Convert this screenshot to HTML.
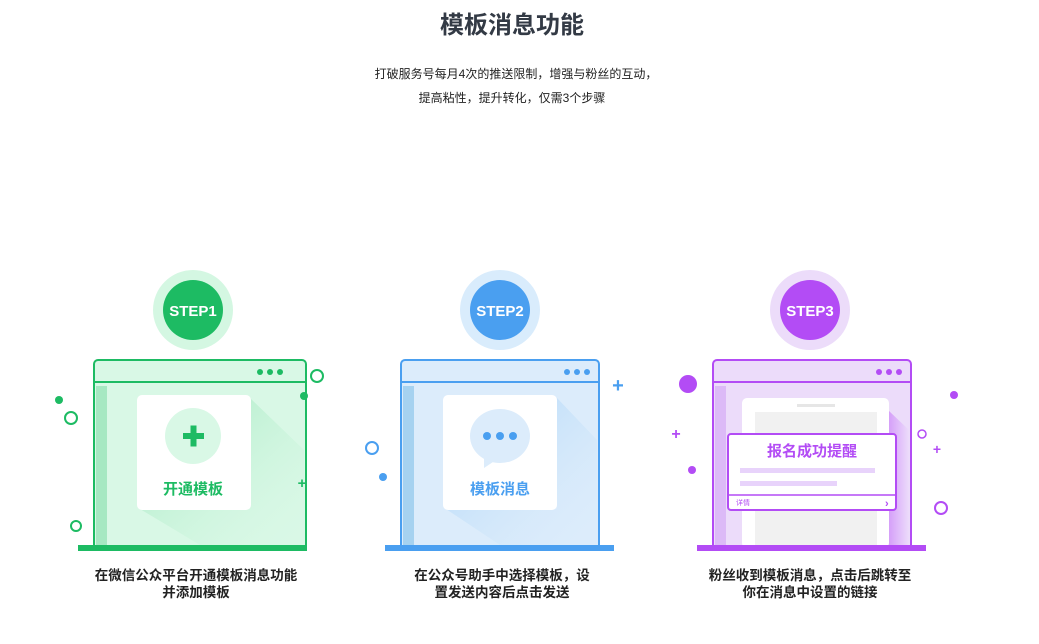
<!DOCTYPE html>
<html><head><meta charset="utf-8"><style>
body{margin:0;width:1039px;height:639px;background:#fff;overflow:hidden;font-family:"Liberation Sans","Noto Sans CJK SC",sans-serif}
svg text{font-family:"Liberation Sans","Noto Sans CJK SC",sans-serif}
</style></head><body>
<svg width="1039" height="639" viewBox="0 0 1039 639" xmlns="http://www.w3.org/2000/svg">
<defs>
<linearGradient id="sg" x1="0" y1="0" x2="1" y2="1"><stop offset="0" stop-color="#9fe8bd"/><stop offset="1" stop-color="#d9f8e6" stop-opacity="0"/></linearGradient>
<linearGradient id="sb" x1="0" y1="0" x2="1" y2="1"><stop offset="0" stop-color="#a8d3f7"/><stop offset="1" stop-color="#dcecfb" stop-opacity="0"/></linearGradient>
<linearGradient id="sp" x1="0" y1="0" x2="1" y2="0"><stop offset="0" stop-color="#d49cf9"/><stop offset="1" stop-color="#ecdcfa"/></linearGradient>
</defs>
<text x="512" y="33" text-anchor="middle" font-size="24" font-weight="bold" fill="#333a45">模板消息功能</text>
<text x="516" y="78" text-anchor="middle" font-size="12" fill="#222">打破服务号每月4次的推送限制，增强与粉丝的互动，</text>
<text x="512" y="102" text-anchor="middle" font-size="12" fill="#222">提高粘性，提升转化，仅需3个步骤</text>

<!-- Panel 1 -->
<circle cx="193" cy="310" r="40" fill="#d4f7e2"/>
<circle cx="193" cy="310" r="30" fill="#1dbb63"/>
<text x="193" y="316" text-anchor="middle" font-size="15" font-weight="bold" fill="#fff">STEP1</text>
<rect x="94" y="360" width="212" height="190" rx="4" fill="#d9f8e6" stroke="#1dbb63" stroke-width="2"/>
<line x1="94" y1="382" x2="306" y2="382" stroke="#1dbb63" stroke-width="2"/>
<rect x="96" y="386" width="11" height="160" fill="#a6e8c2"/>
<circle cx="260" cy="372" r="3" fill="#1dbb63"/><circle cx="270" cy="372" r="3" fill="#1dbb63"/><circle cx="280" cy="372" r="3" fill="#1dbb63"/>
<polygon points="250,398 304,450 304,545 200,545 140,509 250,509" fill="url(#sg)"/>
<rect x="137" y="395" width="114" height="115" rx="5" fill="#fff"/>
<circle cx="193" cy="436" r="28" fill="#d9f8e6"/>
<rect x="183" y="433" width="21" height="6" fill="#1dbb63"/><rect x="190.5" y="425.5" width="6" height="21" fill="#1dbb63"/>
<text x="193" y="494" text-anchor="middle" font-size="15" font-weight="bold" fill="#1dbb63">开通模板</text>
<rect x="78" y="545" width="229" height="6" fill="#1dbb63"/>
<circle cx="59" cy="400" r="4" fill="#1dbb63"/>
<circle cx="71" cy="418" r="6" fill="none" stroke="#1dbb63" stroke-width="2"/>
<circle cx="317" cy="376" r="6" fill="none" stroke="#1dbb63" stroke-width="2"/>
<circle cx="304" cy="396" r="4" fill="#1dbb63"/>
<text x="302" y="488" text-anchor="middle" font-size="15" font-weight="bold" fill="#1dbb63">+</text>
<circle cx="76" cy="526" r="5" fill="none" stroke="#1dbb63" stroke-width="2"/>
<text x="196" y="580" text-anchor="middle" font-size="13.5" font-weight="bold" fill="#222">在微信公众平台开通模板消息功能</text>
<text x="196" y="597" text-anchor="middle" font-size="13.5" font-weight="bold" fill="#222">并添加模板</text>

<!-- Panel 2 -->
<circle cx="500" cy="310" r="40" fill="#d9ecfc"/>
<circle cx="500" cy="310" r="30" fill="#4a9ff0"/>
<text x="500" y="316" text-anchor="middle" font-size="15" font-weight="bold" fill="#fff">STEP2</text>
<rect x="401" y="360" width="198" height="190" rx="4" fill="#dcecfb" stroke="#4a9ff0" stroke-width="2"/>
<line x1="401" y1="382" x2="599" y2="382" stroke="#4a9ff0" stroke-width="2"/>
<rect x="403" y="386" width="11" height="160" fill="#a6d2f0"/>
<circle cx="567" cy="372" r="3" fill="#4a9ff0"/><circle cx="577" cy="372" r="3" fill="#4a9ff0"/><circle cx="587" cy="372" r="3" fill="#4a9ff0"/>
<polygon points="557,398 597,440 597,545 500,545 446,509 557,509" fill="url(#sb)"/>
<rect x="443" y="395" width="114" height="115" rx="5" fill="#fff"/>
<ellipse cx="500" cy="436" rx="30" ry="27" fill="#dcecfb"/>
<polygon points="484,455 496,460 484,468" fill="#dcecfb"/>
<circle cx="487" cy="436" r="4" fill="#4a9ff0"/><circle cx="500" cy="436" r="4" fill="#4a9ff0"/><circle cx="513" cy="436" r="4" fill="#4a9ff0"/>
<text x="500" y="494" text-anchor="middle" font-size="15" font-weight="bold" fill="#4a9ff0">模板消息</text>
<rect x="385" y="545" width="229" height="6" fill="#4a9ff0"/>
<text x="618" y="392" text-anchor="middle" font-size="20" font-weight="bold" fill="#4a9ff0">+</text>
<circle cx="372" cy="448" r="6" fill="none" stroke="#4a9ff0" stroke-width="2"/>
<circle cx="383" cy="477" r="4" fill="#4a9ff0"/>
<text x="502" y="580" text-anchor="middle" font-size="13.5" font-weight="bold" fill="#222">在公众号助手中选择模板，设</text>
<text x="502" y="597" text-anchor="middle" font-size="13.5" font-weight="bold" fill="#222">置发送内容后点击发送</text>

<!-- Panel 3 -->
<circle cx="810" cy="310" r="40" fill="#ecdcfa"/>
<circle cx="810" cy="310" r="30" fill="#b34cf5"/>
<text x="810" y="316" text-anchor="middle" font-size="15" font-weight="bold" fill="#fff">STEP3</text>
<rect x="713" y="360" width="198" height="190" rx="4" fill="#ecdcfa" stroke="#b34cf5" stroke-width="2"/>
<line x1="713" y1="382" x2="911" y2="382" stroke="#b34cf5" stroke-width="2"/>
<rect x="715" y="386" width="11" height="160" fill="#dcbaf7"/>
<circle cx="879" cy="372" r="3" fill="#b34cf5"/><circle cx="889" cy="372" r="3" fill="#b34cf5"/><circle cx="899" cy="372" r="3" fill="#b34cf5"/>
<polygon points="888,410 909,430 909,545 888,545" fill="url(#sp)"/>
<rect x="742" y="398" width="147" height="150" rx="5" fill="#fff"/>
<rect x="797" y="404" width="38" height="3" fill="#e6e6e6"/>
<rect x="755" y="412" width="122" height="133" fill="#f1f1f1"/>
<rect x="728" y="434" width="168" height="76" rx="3" fill="#fff" stroke="#b34cf5" stroke-width="2"/>
<text x="812" y="456" text-anchor="middle" font-size="15" font-weight="bold" fill="#b34cf5">报名成功提醒</text>
<rect x="740" y="468" width="135" height="5" fill="#e8d3fb"/>
<rect x="740" y="481" width="97" height="5" fill="#e8d3fb"/>
<line x1="728" y1="495" x2="896" y2="495" stroke="#b34cf5" stroke-width="1.5"/>
<text x="736" y="505" font-size="7" fill="#b34cf5">详情</text>
<text x="885" y="507" font-size="11" font-weight="bold" fill="#b34cf5">›</text>
<rect x="697" y="545" width="229" height="6" fill="#b34cf5"/>
<circle cx="688" cy="384" r="9" fill="#b34cf5"/>
<text x="676" y="439" text-anchor="middle" font-size="16" font-weight="bold" fill="#b34cf5">+</text>
<circle cx="692" cy="470" r="4" fill="#b34cf5"/>
<circle cx="954" cy="395" r="4" fill="#b34cf5"/>
<circle cx="922" cy="434" r="4" fill="none" stroke="#b34cf5" stroke-width="1.5"/>
<text x="937" y="454" text-anchor="middle" font-size="14" font-weight="bold" fill="#b34cf5">+</text>
<circle cx="941" cy="508" r="6" fill="none" stroke="#b34cf5" stroke-width="2"/>
<text x="810" y="580" text-anchor="middle" font-size="13.5" font-weight="bold" fill="#222">粉丝收到模板消息，点击后跳转至</text>
<text x="810" y="597" text-anchor="middle" font-size="13.5" font-weight="bold" fill="#222">你在消息中设置的链接</text>
</svg>
</body></html>
